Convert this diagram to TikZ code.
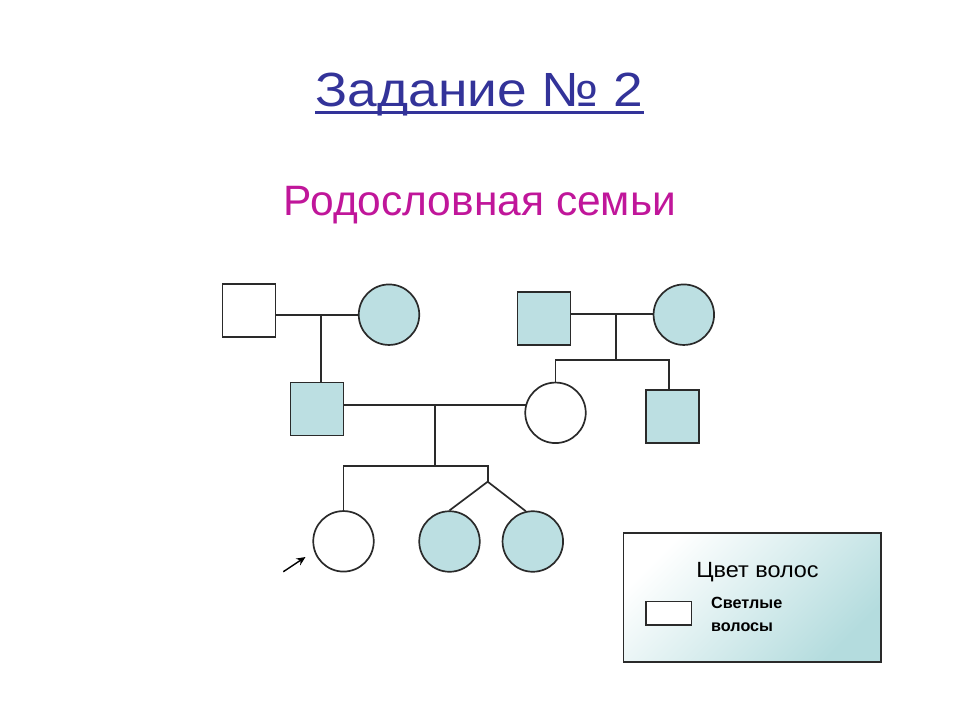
\documentclass[tikz,border=0pt]{standalone}
\usepackage{fontspec}
\usepackage{graphicx}
\setmainfont{Liberation Sans}
\usetikzlibrary{arrows.meta}
\definecolor{titleblue}{HTML}{333399}
\definecolor{submag}{HTML}{C0169A}
\definecolor{pedteal}{HTML}{BCDFE2}
\definecolor{legteal}{HTML}{B4DCDE}
\definecolor{edge}{HTML}{2A2A2A}
\tikzset{
  male/.style={draw=edge, line width=1.7pt, rectangle, minimum size=53pt, inner sep=0pt},
  female/.style={draw=edge, line width=1.7pt, circle, minimum size=60.5pt, inner sep=0pt},
  aff/.style={fill=pedteal},
  unaff/.style={fill=white},
  link/.style={draw=edge, line width=1.7pt},
  pointer/.style={draw=black, line width=1.4pt, -{Stealth[length=9pt,width=8pt]}},
}
\begin{document}
\begin{tikzpicture}[x=1pt,y=-1pt]
\useasboundingbox (0,0) rectangle (960,720);
% titles
\node[inner sep=0pt, anchor=base, text=titleblue, font=\fontsize{48}{52}\selectfont] (title) at (479.5,106.5) {\scalebox{1.11}[1]{Задание № 2}};
\draw[titleblue, line width=2.4pt] ([yshift=-5.8pt]title.base west) -- ([yshift=-5.8pt]title.base east);
\node[inner sep=0pt, anchor=base, text=submag, font=\fontsize{42.5}{47}\selectfont] (sub) at (480,215) {Родословная семьи};
% generation I
\node[male, unaff] (gfA) at (249,310.7) {};
\node[female, aff] (gmA) at (389,314.7) {};
\node[male, aff] (gfB) at (544,318.3) {};
\node[female, aff] (gmB) at (683.8,314.7) {};
% generation II
\node[male, aff] (father) at (317,409) {};
\node[female, unaff] (mother) at (555.5,412.8) {};
\node[male, aff] (uncle) at (672.8,416.7) {};
% generation III
\node[female, unaff] (proband) at (343.5,541.3) {};
\node[female, aff] (twinA) at (449.5,541.5) {};
\node[female, aff] (twinB) at (532.8,541.5) {};
% helper coordinates
\coordinate (mA) at (321,314.3);
\coordinate (mB) at (616,314.3);
\coordinate (sibB) at (616,360);
\coordinate (uL) at (669,360);
\coordinate (m2) at (435,405);
\coordinate (s3) at (435,465.7);
\coordinate (tw) at (487.7,465.7);
\coordinate (twj) at (487.7,481.7);
\coordinate (arrS) at (283.3,571.7);
\coordinate (arrE) at (305.5,557);
% connectors
\draw[link] (gmA.west) -- (gmA.west -| gfA.east);
\draw[link] (mA) -- (mA |- father.north);
\draw[link] (gfB.east |- mB) -- (mB -| gmB.west);
\draw[link] (mB) -- (sibB);
\draw[link] (mother.north) |- (uL) -- (uL |- uncle.north);
\draw[link] (m2 -| father.east) -- ([xshift=1.2pt]m2 -| mother.west);
\draw[link] (m2) -- (s3);
\draw[link] (proband.north) |- (tw) -- (twj);
\draw[link] (twinA.north) -- (twj) -- (twinB.103);
\draw[pointer] (arrS) -- (arrE);
% legend
\node[draw=edge, line width=1.7pt, rectangle, minimum width=257.7pt, minimum height=128.4pt, inner sep=0pt,
      left color=white, right color=legteal, shading angle=45] (legend) at (752.2,597.5) {};
\node[inner sep=0pt, anchor=base, font=\fontsize{22}{24}\selectfont] (legtitle) at (757.5,577.7) {\scalebox{1.065}[1]{Цвет волос}};
\node[draw=edge, line width=1.6pt, fill=white, rectangle, minimum width=45.7pt, minimum height=23.3pt, inner sep=0pt] (swatch) at (668.8,613.3) {};
\node[inner sep=0pt, anchor=base west, align=left, font=\fontsize{16.2}{23.4}\selectfont\bfseries] (legtext) at (711,631.7) {Светлые\\волосы};
\end{tikzpicture}
\end{document}
